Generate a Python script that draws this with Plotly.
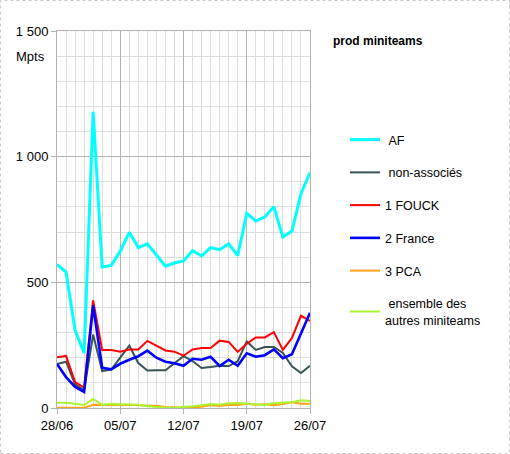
import pandas as pd
import plotly.graph_objects as go

dates = [d.strftime("%Y-%m-%d") for d in pd.date_range("2020-06-28", "2020-07-26", freq="D")]

af = [571, 541, 309, 219, 1178, 561, 567, 624, 699, 638, 653, 608, 564, 577, 585,
      626, 605, 638, 630, 653, 606, 775, 744, 760, 801, 680, 704, 853, 937]
non_assoc = [175, 184, 94, 70, 292, 147, 153, 199, 248, 179, 149, 150, 150, 178, 206,
             187, 159, 163, 168, 167, 186, 265, 231, 243, 243, 219, 166, 139, 168]
fouck = [202, 207, 103, 81, 428, 231, 231, 224, 233, 233, 267, 248, 229, 224, 208,
         233, 239, 239, 268, 263, 223, 256, 281, 281, 302, 231, 279, 367, 347]
france = [175, 123, 84, 64, 408, 160, 154, 176, 192, 206, 228, 200, 184, 178, 168,
          196, 192, 204, 167, 192, 168, 218, 204, 210, 233, 198, 214, 296, 379]
pca = [1, 1, 1, 1, 13, 13, 13, 13, 13, 12, 9, 9, 4, 3, 1,
       3, 5, 12, 8, 13, 12, 17, 13, 15, 11, 16, 23, 17, 17]
autres = [21, 21, 17, 12, 36, 13, 16, 15, 13, 13, 7, 3, 1, 1, 3,
          7, 11, 16, 13, 19, 20, 17, 15, 12, 20, 23, 23, 31, 28]

series_names = ["\u00a0AF", "\u00a0non-associés", "1 FOUCK", "2 France", "3 PCA",
                "\u00a0ensemble des<br>autres miniteams"]
series_values = [af, non_assoc, fouck, france, pca, autres]
series_colors = ["#00ffff", "#355553", "#ff0000", "#0000ff", "#ffa31a", "#a8f530"]
series_widths = [3, 2, 2, 2.6, 2, 2]

y_tickvals = [0, 500, 1000, 1500]
y_ticktext = ["0", "500", "1 000", "1 500"]
x_tickvals = ["2020-06-28", "2020-07-05", "2020-07-12", "2020-07-19", "2020-07-26"]
x_ticktext = ["28/06", "05/07", "12/07", "19/07", "26/07"]

fig = go.Figure()
for name, vals, col, w in zip(series_names, series_values, series_colors, series_widths):
    fig.add_trace(go.Scatter(x=dates, y=vals, mode="lines", name=name, legendgroup=name,
                             line=dict(color=col, width=w)))

FONT = "Liberation Sans, Arial, sans-serif"
L, T, PW, PH = 57, 31, 253, 377
W, H = 510, 454

fig.update_layout(
    width=W, height=H,
    margin=dict(l=L, r=W - L - PW, t=T, b=H - T - PH, pad=0),
    paper_bgcolor="white", plot_bgcolor="white",
    font=dict(family=FONT, size=13, color="#000000"),
    showlegend=True,
    legend=dict(x=(345 - L) / PW, y=(T + PH - 125) / PH, xanchor="left", yanchor="top",
                font=dict(family=FONT, size=12.5), tracegroupgap=13.5,
                bgcolor="rgba(0,0,0,0)", borderwidth=0),
    title=dict(text="<b>prod miniteams</b>", x=333 / W, xref="container", xanchor="left",
               y=1 - 41 / H, yref="container", yanchor="middle",
               font=dict(family=FONT, size=12, color="#000000")),
    xaxis=dict(type="date", range=[dates[0], dates[-1]], tickvals=x_tickvals, ticktext=x_ticktext,
               showgrid=True, gridcolor="#b3b3b3", gridwidth=1,
               showline=True, linecolor="#b3b3b3", linewidth=1, mirror=True,
               ticks="outside", ticklen=5, tickcolor="#b3b3b3",
               tickfont=dict(family=FONT, size=13),
               minor=dict(dtick=86400000, showgrid=True, gridcolor="#dddddd", gridwidth=1),
               zeroline=False, fixedrange=True),
    yaxis=dict(range=[0, 1500], tickvals=y_tickvals, ticktext=y_ticktext,
               showgrid=True, gridcolor="#b3b3b3", gridwidth=1,
               showline=True, linecolor="#b3b3b3", linewidth=1, mirror=True,
               ticks="outside", ticklen=5, tickcolor="#b3b3b3",
               tickfont=dict(family=FONT, size=13),
               minor=dict(dtick=100, showgrid=True, gridcolor="#dddddd", gridwidth=1),
               zeroline=False, fixedrange=True),
    annotations=[dict(text="Mpts", xref="paper", yref="paper", x=-10 / PW, y=1400 / 1500,
                      xanchor="right", yanchor="middle", showarrow=False,
                      font=dict(family=FONT, size=13))],
    shapes=[dict(type="rect", xref="paper", yref="paper",
                 x0=(0.5 - L) / PW, x1=(W - 0.5 - L) / PW,
                 y0=(T + PH - (H - 0.5)) / PH, y1=(T + PH - 0.5) / PH,
                 line=dict(color="#c8c8c8", width=1, dash="dot"), layer="below")],
)

fig.write_html("out.html")
